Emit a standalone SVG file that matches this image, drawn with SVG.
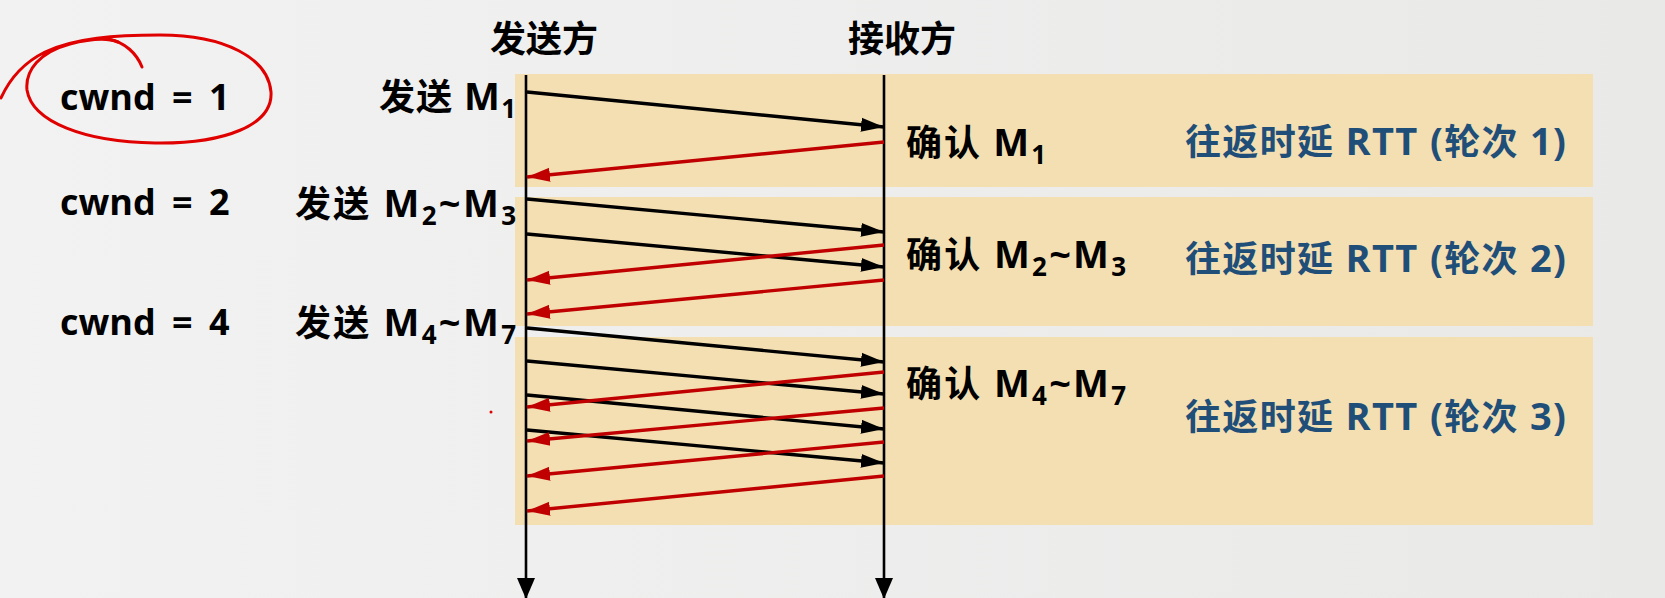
<svg xmlns="http://www.w3.org/2000/svg" width="1665" height="598" viewBox="0 0 1665 598">
<style>
.t{font-family:'Open Sans','Noto Sans CJK SC',sans-serif;font-weight:700;font-size:36px;fill:#000}
.blue{fill:#1f4e79}
.L{font-size:38px}
.sub{font-size:26px}
.band{fill:#f3dfb2}
.ln{stroke:#000;stroke-width:3.4;fill:none}
.rd{stroke:#c00000;stroke-width:3.4;fill:none}
.life{stroke:#000;stroke-width:2.6;fill:none}
</style>
<defs>
<linearGradient id="bg" x1="0" y1="0" x2="1" y2="0">
<stop offset="0" stop-color="#f2f2f2"/>
<stop offset="1" stop-color="#e9e9e8"/>
</linearGradient>
<marker id="ab" markerWidth="24" markerHeight="16" refX="23" refY="8" orient="auto" markerUnits="userSpaceOnUse">
<path d="M0,1 L23,8 L0,15 z" fill="#000"/>
</marker>
<marker id="ar" markerWidth="24" markerHeight="16" refX="23" refY="8" orient="auto" markerUnits="userSpaceOnUse">
<path d="M0,1 L23,8 L0,15 z" fill="#c00000"/>
</marker>
<marker id="av" markerWidth="22" markerHeight="18" refX="21" refY="9" orient="auto" markerUnits="userSpaceOnUse">
<path d="M0,0 L21,9 L0,18 z" fill="#000"/>
</marker>
</defs>
<rect x="0" y="0" width="1665" height="598" fill="url(#bg)"/>

<g id="bands">
<rect class="band" x="515" y="74" width="1078" height="113"/>
<rect class="band" x="515" y="197" width="1078" height="129"/>
<rect class="band" x="515" y="337" width="1078" height="188"/>
</g>

<g id="sender">
<text class="t" x="490" y="52">发送方</text>
</g>
<g id="receiver">
<text class="t" x="848" y="52">接收方</text>
</g>

<g id="cwnd-labels">
<text class="t" x="60" y="110" word-spacing="7">cwnd = 1</text>
<text class="t" x="60" y="215" word-spacing="7">cwnd = 2</text>
<text class="t" x="60" y="335" word-spacing="7">cwnd = 4</text>
</g>

<g id="send-labels">
<text class="t" x="516" y="110" text-anchor="end" textLength="137" lengthAdjust="spacing">发送 <tspan class="L">M</tspan><tspan class="sub" dy="8">1</tspan></text>
<text class="t" x="516" y="217" text-anchor="end" textLength="221" lengthAdjust="spacing">发送 <tspan class="L">M</tspan><tspan class="sub" dy="8">2</tspan><tspan class="L" dy="-8">~M</tspan><tspan class="sub" dy="8">3</tspan></text>
<text class="t" x="516" y="336" text-anchor="end" textLength="221" lengthAdjust="spacing">发送 <tspan class="L">M</tspan><tspan class="sub" dy="8">4</tspan><tspan class="L" dy="-8">~M</tspan><tspan class="sub" dy="8">7</tspan></text>
</g>

<g id="ack-labels">
<text class="t" x="906" y="156" textLength="140" lengthAdjust="spacing">确认 <tspan class="L">M</tspan><tspan class="sub" dy="8">1</tspan></text>
<text class="t" x="906" y="268" textLength="220" lengthAdjust="spacing">确认 <tspan class="L">M</tspan><tspan class="sub" dy="8">2</tspan><tspan class="L" dy="-8">~M</tspan><tspan class="sub" dy="8">3</tspan></text>
<text class="t" x="906" y="397" textLength="220" lengthAdjust="spacing">确认 <tspan class="L">M</tspan><tspan class="sub" dy="8">4</tspan><tspan class="L" dy="-8">~M</tspan><tspan class="sub" dy="8">7</tspan></text>
</g>

<g id="rtt-labels">
<text class="t blue" x="1185" y="155" textLength="381" lengthAdjust="spacing">往返时延<tspan class="L"> RTT (</tspan>轮次<tspan class="L"> 1)</tspan></text>
<text class="t blue" x="1185" y="272" textLength="381" lengthAdjust="spacing">往返时延<tspan class="L"> RTT (</tspan>轮次<tspan class="L"> 2)</tspan></text>
<text class="t blue" x="1185" y="430" textLength="381" lengthAdjust="spacing">往返时延<tspan class="L"> RTT (</tspan>轮次<tspan class="L"> 3)</tspan></text>
</g>

<g id="connectors">
<line class="life" x1="526" y1="75" x2="526" y2="599" marker-end="url(#av)"/>
<line class="life" x1="884" y1="75" x2="884" y2="599" marker-end="url(#av)"/>

<line class="ln" x1="527" y1="92" x2="884" y2="127" marker-end="url(#ab)"/>
<line class="rd" x1="884" y1="142" x2="527" y2="177" marker-end="url(#ar)"/>

<line class="ln" x1="527" y1="199" x2="884" y2="232" marker-end="url(#ab)"/>
<line class="ln" x1="527" y1="234" x2="884" y2="267" marker-end="url(#ab)"/>
<line class="rd" x1="884" y1="245" x2="527" y2="280" marker-end="url(#ar)"/>
<line class="rd" x1="884" y1="280" x2="527" y2="314" marker-end="url(#ar)"/>

<line class="ln" x1="527" y1="328" x2="884" y2="362" marker-end="url(#ab)"/>
<line class="ln" x1="527" y1="361" x2="884" y2="394" marker-end="url(#ab)"/>
<line class="ln" x1="527" y1="395" x2="884" y2="429" marker-end="url(#ab)"/>
<line class="ln" x1="527" y1="430" x2="884" y2="463" marker-end="url(#ab)"/>
<line class="rd" x1="884" y1="372" x2="527" y2="407" marker-end="url(#ar)"/>
<line class="rd" x1="884" y1="408" x2="527" y2="441" marker-end="url(#ar)"/>
<line class="rd" x1="884" y1="442" x2="527" y2="476" marker-end="url(#ar)"/>
<line class="rd" x1="884" y1="476" x2="527" y2="511" marker-end="url(#ar)"/>
</g>

<g id="annotation" fill="none" stroke="#e00000" stroke-width="3" stroke-linecap="round">
<path d="M1,98 C10,78 25,62 45,52 C75,38 115,35 160,35 C225,35 268,58 271,92 C273,125 225,144 155,143 C85,142 32,122 27,90 C25,70 40,52 70,44 C90,39 108,38 118,42"/>
<path d="M108,39 C125,42 137,54 142,67"/>
<circle cx="491" cy="412" r="1.5" fill="#e00000" stroke="none"/>
</g>
</svg>
